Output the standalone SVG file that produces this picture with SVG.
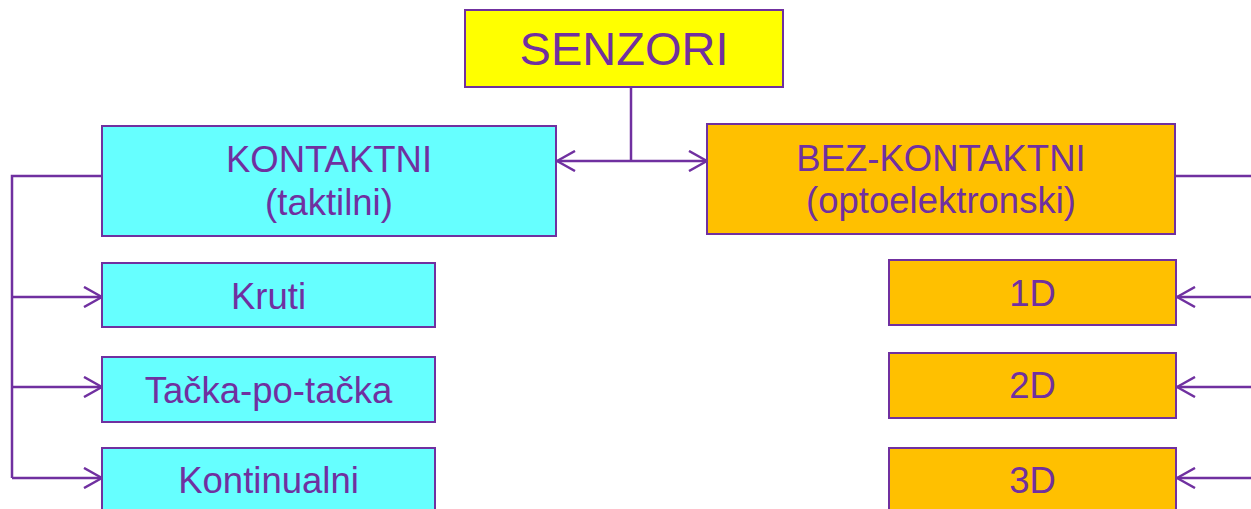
<svg xmlns="http://www.w3.org/2000/svg" width="1251" height="509" viewBox="0 0 1251 509">
<style>
.box{stroke:#7030A0;stroke-width:2}
.cyan{fill:#66FFFF}
.orange{fill:#FFC000}
.yellow{fill:#FFFF00}
text{font-family:"Liberation Sans",Arial,sans-serif;fill:#7030A0;text-anchor:middle}
.t{font-size:36.5px}
.line{stroke:#7030A0;stroke-width:2.5;fill:none}
</style>
<defs>
<marker id="arr" viewBox="0 0 20 22" refX="19" refY="11" markerWidth="20" markerHeight="22" markerUnits="userSpaceOnUse" orient="auto-start-reverse">
<path d="M1,1 L19,11 L1,21" fill="none" stroke="#7030A0" stroke-width="2.5"/>
</marker>
</defs>
<rect width="1251" height="509" fill="#FFFFFF"/>
<g id="connectors">
<path class="line" d="M631,87 V161"/>
<path class="line" d="M557,161 H707" marker-start="url(#arr)" marker-end="url(#arr)"/>
<path class="line" d="M102,176 H12 V478"/>
<path class="line" d="M12,297 H102" marker-end="url(#arr)"/>
<path class="line" d="M12,387 H102" marker-end="url(#arr)"/>
<path class="line" d="M12,478 H102" marker-end="url(#arr)"/>
<path class="line" d="M1176,176 H1251"/>
<path class="line" d="M1251,297 H1177" marker-end="url(#arr)"/>
<path class="line" d="M1251,387 H1177" marker-end="url(#arr)"/>
<path class="line" d="M1251,478 H1177" marker-end="url(#arr)"/>
</g>
<g id="senzori">
<rect class="box yellow" x="465" y="10" width="318" height="77"/>
<text x="624" y="65" style="font-size:47px">SENZORI</text>
</g>
<g id="kontaktni">
<rect class="box cyan" x="102" y="126" width="454" height="110"/>
<text class="t" x="329" y="172">KONTAKTNI</text>
<text class="t" x="329" y="215">(taktilni)</text>
</g>
<g id="bezkontaktni">
<rect class="box orange" x="707" y="124" width="468" height="110"/>
<text class="t" x="941" y="171">BEZ-KONTAKTNI</text>
<text class="t" x="941" y="213">(optoelektronski)</text>
</g>
<g id="kruti">
<rect class="box cyan" x="102" y="263" width="333" height="64"/>
<text class="t" x="268.5" y="309">Kruti</text>
</g>
<g id="tacka">
<rect class="box cyan" x="102" y="357" width="333" height="65"/>
<text class="t" x="268.5" y="403">Tačka-po-tačka</text>
</g>
<g id="kontinualni">
<rect class="box cyan" x="102" y="448" width="333" height="70"/>
<text class="t" x="268.5" y="493">Kontinualni</text>
</g>
<g id="d1">
<rect class="box orange" x="889" y="260" width="287" height="65"/>
<text class="t" x="1032.5" y="306">1D</text>
</g>
<g id="d2">
<rect class="box orange" x="889" y="353" width="287" height="65"/>
<text class="t" x="1032.5" y="398">2D</text>
</g>
<g id="d3">
<rect class="box orange" x="889" y="448" width="287" height="70"/>
<text class="t" x="1032.5" y="493">3D</text>
</g>
</svg>
